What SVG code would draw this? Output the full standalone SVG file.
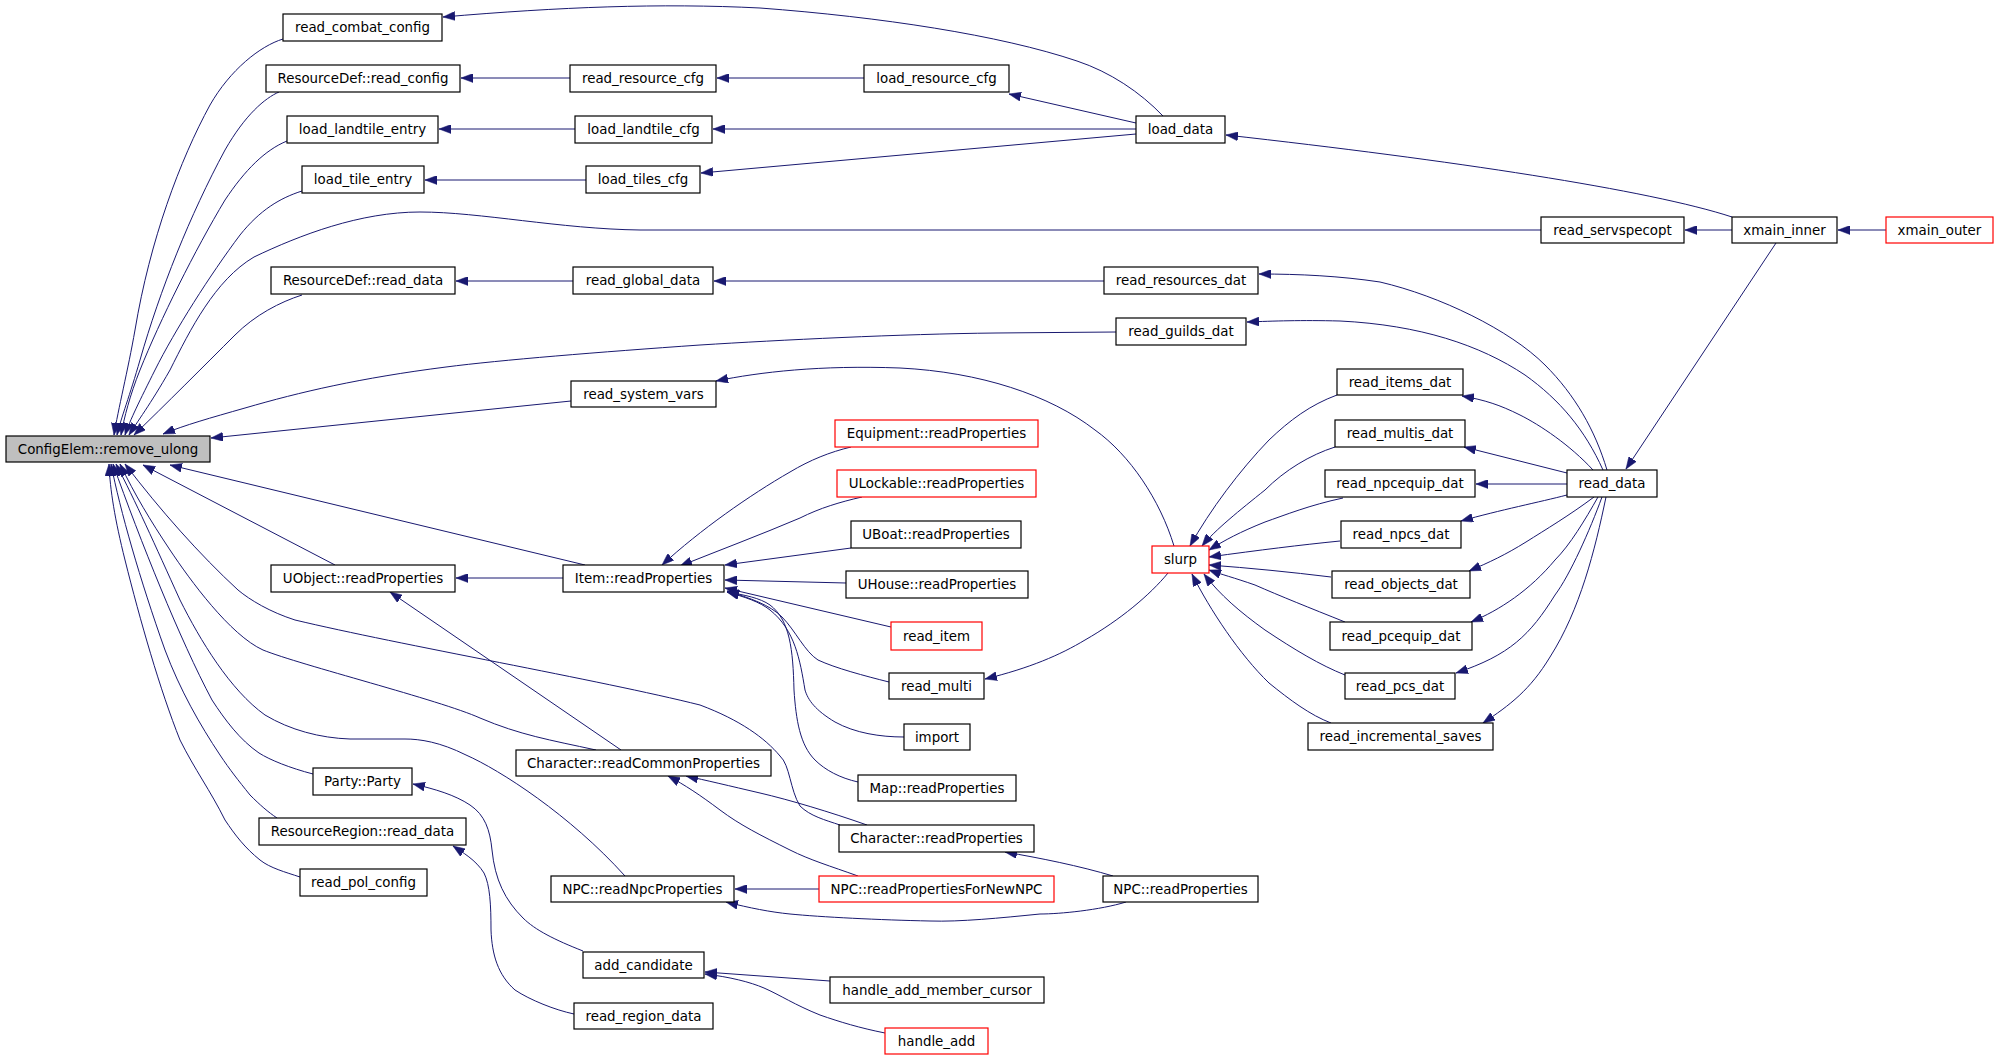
<svg xmlns="http://www.w3.org/2000/svg" width="1997" height="1059" viewBox="0 0 1997 1059">
<style>
rect{fill:#fff;stroke:#000;stroke-width:1.2}
.r rect{stroke:#ff0000}
.g rect{fill:#bfbfbf}
text{font-family:"DejaVu Sans","Liberation Sans",sans-serif;font-size:13.4px;fill:#000;text-anchor:middle}
#edges path{fill:none;stroke:#191970;stroke-width:1;marker-end:url(#ah)}
</style>
<defs>
<marker id="ah" markerUnits="userSpaceOnUse" markerWidth="13" markerHeight="9" refX="12" refY="4.5" orient="auto"><path d="M0,0 L12,4.5 L0,9 z" fill="#191970" stroke="#191970" stroke-width="0.5"/></marker>
</defs>
<rect x="0" y="0" width="1997" height="1059" style="fill:#fff;stroke:none"/>
<g id="edges">
<path d="M1163,116 C1140,92 1110,72 1077,61 C1000,35 880,17 760,8 C660,3 560,7 443,17"/>
<path d="M283,39 C260,46 230,70 210,105 C180,160 150,240 135,330 C128,370 118,410 114,435"/>
<path d="M279,92 C265,98 245,115 225,150 C190,215 160,290 140,360 C130,395 121,418 117,435"/>
<path d="M287,141 C265,150 245,170 225,200 C195,250 160,320 140,370 C130,395 124,418 121,435"/>
<path d="M302,191 C280,198 260,210 240,235 C210,275 175,330 155,370 C140,400 130,420 125,435"/>
<path d="M1541,230 L640,230 C560,229 480,212 420,212 C360,212 300,235 254,257 C215,280 190,330 170,370 C150,405 137,422 129,435"/>
<path d="M302,295 C280,302 255,315 235,335 C205,365 165,405 134,435"/>
<path d="M1116,332 L996,333 C900,334 780,340 700,345 C600,352 500,360 446,367 C360,378 300,392 245,408 C210,418 185,425 163,434"/>
<path d="M571,401 L211,438"/>
<path d="M585,565 L170,465"/>
<path d="M335,565 L143,465"/>
<path d="M596,750 C550,740 520,735 480,718 C440,700 300,665 263,650 C230,635 190,580 170,550 C150,520 135,495 120,464"/>
<path d="M840,825 C825,820 810,816 800,806 C790,790 790,765 780,756 C765,738 740,720 700,705 C600,680 400,645 295,620 C270,612 250,600 238,590 C200,555 160,510 125,464"/>
<path d="M625,876 C570,815 500,770 466,755 C440,742 420,739 405,739 L350,739 C320,738 290,730 265,715 C230,690 200,640 180,600 C155,545 135,500 116,464"/>
<path d="M313,774 C290,768 270,760 259,753 C240,740 225,720 212,700 C180,640 140,540 113,464"/>
<path d="M277,818 C268,812 260,805 250,795 C238,780 230,770 220,755 C200,725 180,690 165,650 C140,580 120,510 111,464"/>
<path d="M300,877 C285,872 270,868 260,860 C245,848 235,835 225,820 C210,790 195,770 180,740 C160,690 140,620 125,560 C115,520 110,490 109,464"/>
<path d="M570,78 L461,78"/>
<path d="M864,78 L717,78"/>
<path d="M1136,123 L1009,94"/>
<path d="M575,129 L439,129"/>
<path d="M1136,129 L713,129"/>
<path d="M586,180 L425,180"/>
<path d="M1136,134 L701,173"/>
<path d="M1732,217 C1650,190 1450,160 1226,135"/>
<path d="M1732,230 L1685,230"/>
<path d="M1886,230 L1838,230"/>
<path d="M1776,243 L1626,469"/>
<path d="M573,281 L456,281"/>
<path d="M1104,281 L714,281"/>
<path d="M1607,470 C1595,430 1575,395 1545,365 C1510,330 1440,296 1380,282 C1340,276 1300,274 1259,274"/>
<path d="M1603,470 C1585,430 1560,400 1525,375 C1480,345 1420,325 1340,321 C1300,320 1275,321 1247,322"/>
<path d="M1593,470 C1570,445 1540,425 1520,415 C1500,405 1485,400 1462,396"/>
<path d="M1567,473 L1464,447"/>
<path d="M1567,484 L1476,484"/>
<path d="M1567,495 C1540,502 1500,510 1461,521"/>
<path d="M1594,497 C1570,515 1545,530 1526,542 C1505,555 1490,562 1469,571"/>
<path d="M1598,497 C1585,520 1570,545 1555,560 C1530,590 1500,610 1471,622"/>
<path d="M1602,497 C1590,530 1570,575 1555,595 C1530,635 1510,655 1456,673"/>
<path d="M1606,497 C1595,550 1580,610 1550,657 C1530,690 1510,705 1483,723"/>
<path d="M1337,395 C1310,405 1290,420 1269,440 C1240,470 1210,510 1190,546"/>
<path d="M1335,447 C1310,455 1285,470 1265,490 C1240,510 1215,530 1202,546"/>
<path d="M1343,498 C1310,505 1285,515 1265,522 C1240,532 1225,540 1209,550"/>
<path d="M1340,541 C1300,545 1260,550 1209,557"/>
<path d="M1331,577 C1290,572 1250,568 1209,565"/>
<path d="M1345,622 C1310,608 1280,596 1255,585 C1235,578 1220,574 1209,570"/>
<path d="M1345,675 C1320,665 1295,650 1265,630 C1240,612 1220,595 1204,574"/>
<path d="M1331,723 C1310,715 1290,700 1269,683 C1240,655 1210,610 1192,574"/>
<path d="M1168,573 C1150,595 1120,620 1085,640 C1060,655 1030,668 985,679"/>
<path d="M1174,546 C1160,500 1130,455 1095,430 C1050,395 980,372 900,368 C820,365 760,372 716,381"/>
<path d="M851,447 C830,452 810,460 790,472 C750,495 700,530 662,565"/>
<path d="M862,497 C840,502 820,508 800,518 C760,535 720,550 680,566"/>
<path d="M851,548 L725,565"/>
<path d="M846,583 L725,580"/>
<path d="M891,627 L725,588"/>
<path d="M889,682 C865,676 835,668 818,660 C805,652 795,630 782,617 C770,605 750,598 727,591"/>
<path d="M904,737 C880,737 855,733 835,722 C815,710 808,700 805,690 C800,660 795,630 770,610 C760,602 745,597 727,592"/>
<path d="M858,782 C840,778 825,770 815,760 C800,745 796,720 794,690 C793,650 790,620 770,605 C760,598 745,595 727,592"/>
<path d="M867,825 C830,812 790,800 760,793 C730,786 705,780 686,776"/>
<path d="M858,876 C830,866 810,860 790,850 C760,835 740,825 720,810 C700,795 685,785 668,776"/>
<path d="M621,750 L390,592"/>
<path d="M563,578 L456,578"/>
<path d="M819,889 L735,889"/>
<path d="M1126,902 C1100,910 1060,914 1040,914 C1000,918 960,922 930,921 C880,920 820,917 790,914 C770,912 750,908 726,902"/>
<path d="M1113,876 C1080,866 1040,858 1005,852"/>
<path d="M583,951 C555,940 535,930 523,918 C505,900 495,880 492,850 C490,830 485,815 470,805 C455,795 435,789 413,784"/>
<path d="M574,1014 C555,1010 530,1000 515,990 C498,975 492,955 491,930 C491,905 490,885 484,873 C476,860 462,852 453,846"/>
<path d="M830,981 L705,972"/>
<path d="M885,1033 C860,1028 840,1022 820,1015 C795,1005 780,995 764,988 C750,982 730,977 705,974"/>
</g>
<g id="n_remove_ulong" class="g"><rect x="6" y="436" width="204" height="26"/><text x="108" y="453.5">ConfigElem::remove_ulong</text></g>
<g id="n_read_combat_config"><rect x="283" y="14" width="159" height="27"/><text x="362.5" y="32">read_combat_config</text></g>
<g id="n_rd_read_config"><rect x="266" y="65" width="194" height="27"/><text x="363" y="83">ResourceDef::read_config</text></g>
<g id="n_load_landtile_entry"><rect x="287" y="116" width="151" height="27"/><text x="362.5" y="134">load_landtile_entry</text></g>
<g id="n_load_tile_entry"><rect x="302" y="166" width="122" height="27"/><text x="363" y="184">load_tile_entry</text></g>
<g id="n_rd_read_data"><rect x="271" y="267" width="184" height="27"/><text x="363" y="285">ResourceDef::read_data</text></g>
<g id="n_party"><rect x="313" y="768" width="99" height="27"/><text x="362.5" y="786">Party::Party</text></g>
<g id="n_rr_read_data"><rect x="259" y="818" width="207" height="27"/><text x="362.5" y="836">ResourceRegion::read_data</text></g>
<g id="n_read_pol_config"><rect x="300" y="869" width="127" height="27"/><text x="363.5" y="887">read_pol_config</text></g>
<g id="n_uobject_rp"><rect x="271" y="565" width="184" height="27"/><text x="363" y="583">UObject::readProperties</text></g>
<g id="n_read_resource_cfg"><rect x="570" y="65" width="146" height="27"/><text x="643" y="83">read_resource_cfg</text></g>
<g id="n_load_landtile_cfg"><rect x="575" y="116" width="137" height="27"/><text x="643.5" y="134">load_landtile_cfg</text></g>
<g id="n_load_tiles_cfg"><rect x="586" y="166" width="114" height="27"/><text x="643" y="184">load_tiles_cfg</text></g>
<g id="n_read_global_data"><rect x="573" y="267" width="140" height="27"/><text x="643" y="285">read_global_data</text></g>
<g id="n_read_system_vars"><rect x="571" y="381" width="145" height="26"/><text x="643.5" y="398.5">read_system_vars</text></g>
<g id="n_item_rp"><rect x="563" y="565" width="161" height="27"/><text x="643.5" y="583">Item::readProperties</text></g>
<g id="n_char_rcp"><rect x="516" y="750" width="255" height="26"/><text x="643.5" y="767.5">Character::readCommonProperties</text></g>
<g id="n_npc_rnp"><rect x="551" y="876" width="183" height="26"/><text x="642.5" y="893.5">NPC::readNpcProperties</text></g>
<g id="n_add_candidate"><rect x="583" y="952" width="121" height="26"/><text x="643.5" y="969.5">add_candidate</text></g>
<g id="n_read_region_data"><rect x="574" y="1003" width="139" height="26"/><text x="643.5" y="1020.5">read_region_data</text></g>
<g id="n_load_resource_cfg"><rect x="864" y="65" width="145" height="27"/><text x="936.5" y="83">load_resource_cfg</text></g>
<g id="n_equipment_rp" class="r"><rect x="835" y="420" width="203" height="27"/><text x="936.5" y="438">Equipment::readProperties</text></g>
<g id="n_ulockable_rp" class="r"><rect x="837" y="470" width="199" height="27"/><text x="936.5" y="488">ULockable::readProperties</text></g>
<g id="n_uboat_rp"><rect x="851" y="521" width="170" height="27"/><text x="936" y="539">UBoat::readProperties</text></g>
<g id="n_uhouse_rp"><rect x="846" y="571" width="182" height="27"/><text x="937" y="589">UHouse::readProperties</text></g>
<g id="n_read_item" class="r"><rect x="891" y="622" width="91" height="28"/><text x="936.5" y="640.5">read_item</text></g>
<g id="n_read_multi"><rect x="889" y="673" width="95" height="26"/><text x="936.5" y="690.5">read_multi</text></g>
<g id="n_import"><rect x="904" y="724" width="66" height="26"/><text x="937" y="741.5">import</text></g>
<g id="n_map_rp"><rect x="858" y="775" width="158" height="26"/><text x="937" y="792.5">Map::readProperties</text></g>
<g id="n_char_rp"><rect x="839" y="825" width="195" height="27"/><text x="936.5" y="843">Character::readProperties</text></g>
<g id="n_npc_rpfnn" class="r"><rect x="819" y="876" width="235" height="26"/><text x="936.5" y="893.5">NPC::readPropertiesForNewNPC</text></g>
<g id="n_hamc"><rect x="830" y="977" width="214" height="26"/><text x="937" y="994.5">handle_add_member_cursor</text></g>
<g id="n_handle_add" class="r"><rect x="885" y="1028" width="103" height="26"/><text x="936.5" y="1045.5">handle_add</text></g>
<g id="n_load_data"><rect x="1136" y="116" width="89" height="27"/><text x="1180.5" y="134">load_data</text></g>
<g id="n_read_resources_dat"><rect x="1104" y="267" width="154" height="27"/><text x="1181" y="285">read_resources_dat</text></g>
<g id="n_read_guilds_dat"><rect x="1116" y="318" width="130" height="27"/><text x="1181" y="336">read_guilds_dat</text></g>
<g id="n_slurp" class="r"><rect x="1152" y="546" width="57" height="27"/><text x="1180.5" y="564">slurp</text></g>
<g id="n_npc_rp"><rect x="1103" y="876" width="155" height="26"/><text x="1180.5" y="893.5">NPC::readProperties</text></g>
<g id="n_read_servspecopt"><rect x="1541" y="217" width="143" height="26"/><text x="1612.5" y="234.5">read_servspecopt</text></g>
<g id="n_xmain_inner"><rect x="1732" y="217" width="105" height="26"/><text x="1784.5" y="234.5">xmain_inner</text></g>
<g id="n_xmain_outer" class="r"><rect x="1886" y="217" width="107" height="26"/><text x="1939.5" y="234.5">xmain_outer</text></g>
<g id="n_read_items_dat"><rect x="1337" y="369" width="126" height="26"/><text x="1400" y="386.5">read_items_dat</text></g>
<g id="n_read_multis_dat"><rect x="1335" y="420" width="130" height="27"/><text x="1400" y="438">read_multis_dat</text></g>
<g id="n_read_npcequip_dat"><rect x="1325" y="470" width="150" height="27"/><text x="1400" y="488">read_npcequip_dat</text></g>
<g id="n_read_npcs_dat"><rect x="1341" y="521" width="120" height="27"/><text x="1401" y="539">read_npcs_dat</text></g>
<g id="n_read_objects_dat"><rect x="1332" y="571" width="138" height="27"/><text x="1401" y="589">read_objects_dat</text></g>
<g id="n_read_pcequip_dat"><rect x="1330" y="622" width="142" height="28"/><text x="1401" y="640.5">read_pcequip_dat</text></g>
<g id="n_read_pcs_dat"><rect x="1345" y="673" width="110" height="26"/><text x="1400" y="690.5">read_pcs_dat</text></g>
<g id="n_read_incremental_saves"><rect x="1308" y="723" width="185" height="27"/><text x="1400.5" y="741">read_incremental_saves</text></g>
<g id="n_read_data"><rect x="1567" y="470" width="90" height="27"/><text x="1612" y="488">read_data</text></g>
</svg>
